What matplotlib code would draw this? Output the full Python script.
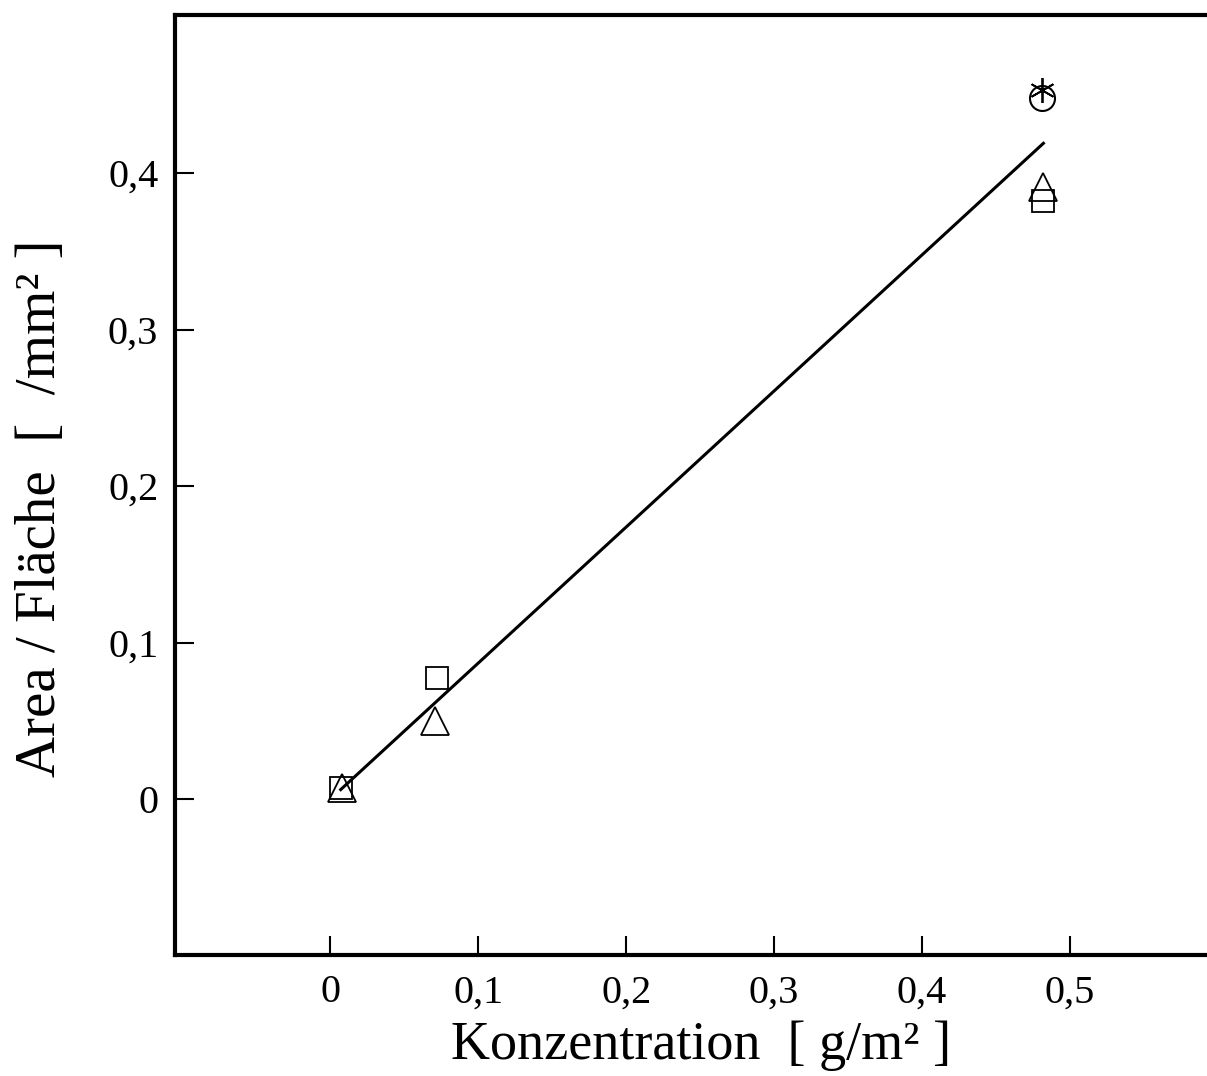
import matplotlib.pyplot as plt
from matplotlib.ticker import FuncFormatter

plt.rcParams['font.family'] = ['Liberation Serif', 'DejaVu Serif']

# data
conc_sq = [0.007, 0.072, 0.482]
area_sq = [0.007, 0.077, 0.382]
conc_tri = [0.008, 0.071, 0.482]
area_tri = [0.007, 0.050, 0.391]
conc_circ = [0.481]
area_circ = [0.448]
conc_ast = [0.481]
area_ast = [0.453]
fit_x = [0.007, 0.482]
fit_y = [0.006, 0.419]

xticks = [0, 0.1, 0.2, 0.3, 0.4, 0.5]
yticks = [0, 0.1, 0.2, 0.3, 0.4]

fig = plt.figure(figsize=(12.07, 10.76), dpi=100)
ax = fig.add_axes([175/1207, 1 - 955/1076, 1 - 175/1207, (955 - 15)/1076])

ax.plot(fit_x, fit_y, color='black', lw=2.2)
ax.plot(conc_sq, area_sq, ls='none', marker='s', ms=16, mfc='none', mec='black', mew=1.3)
ax.plot(conc_tri, area_tri, ls='none', marker='^', ms=20, mfc='none', mec='black', mew=1.3)
ax.plot(conc_circ, area_circ, ls='none', marker='o', ms=18, mfc='none', mec='black', mew=1.5)
ax.plot(conc_ast, area_ast, ls='none', marker=(6, 2, 0), ms=18, mec='black', mew=1.3)

ax.set_xlim(-0.105, 0.5926)
ax.set_ylim(-0.0997, 0.501)
ax.set_xticks(xticks)
ax.set_yticks(yticks)
comma = FuncFormatter(lambda v, p: '0' if v == 0 else ('%.1f' % v).replace('.', ','))
ax.xaxis.set_major_formatter(comma)
ax.yaxis.set_major_formatter(comma)
ax.tick_params(direction='in', length=14, width=1.5, labelsize=29, pad=14)
ax.tick_params(axis='y', pad=12)

for s in ['left', 'bottom', 'top']:
    ax.spines[s].set_linewidth(3)
ax.spines['right'].set_visible(False)

ax.set_xlabel('Konzentration  [ g/m² ]', fontsize=39)
ax.xaxis.set_label_coords(0.51, -0.07)
ax.set_ylabel('Area / Fläche  [  /mm² ]', fontsize=41)
ax.yaxis.set_label_coords(-0.105, 0.475)

plt.savefig('out.png')
